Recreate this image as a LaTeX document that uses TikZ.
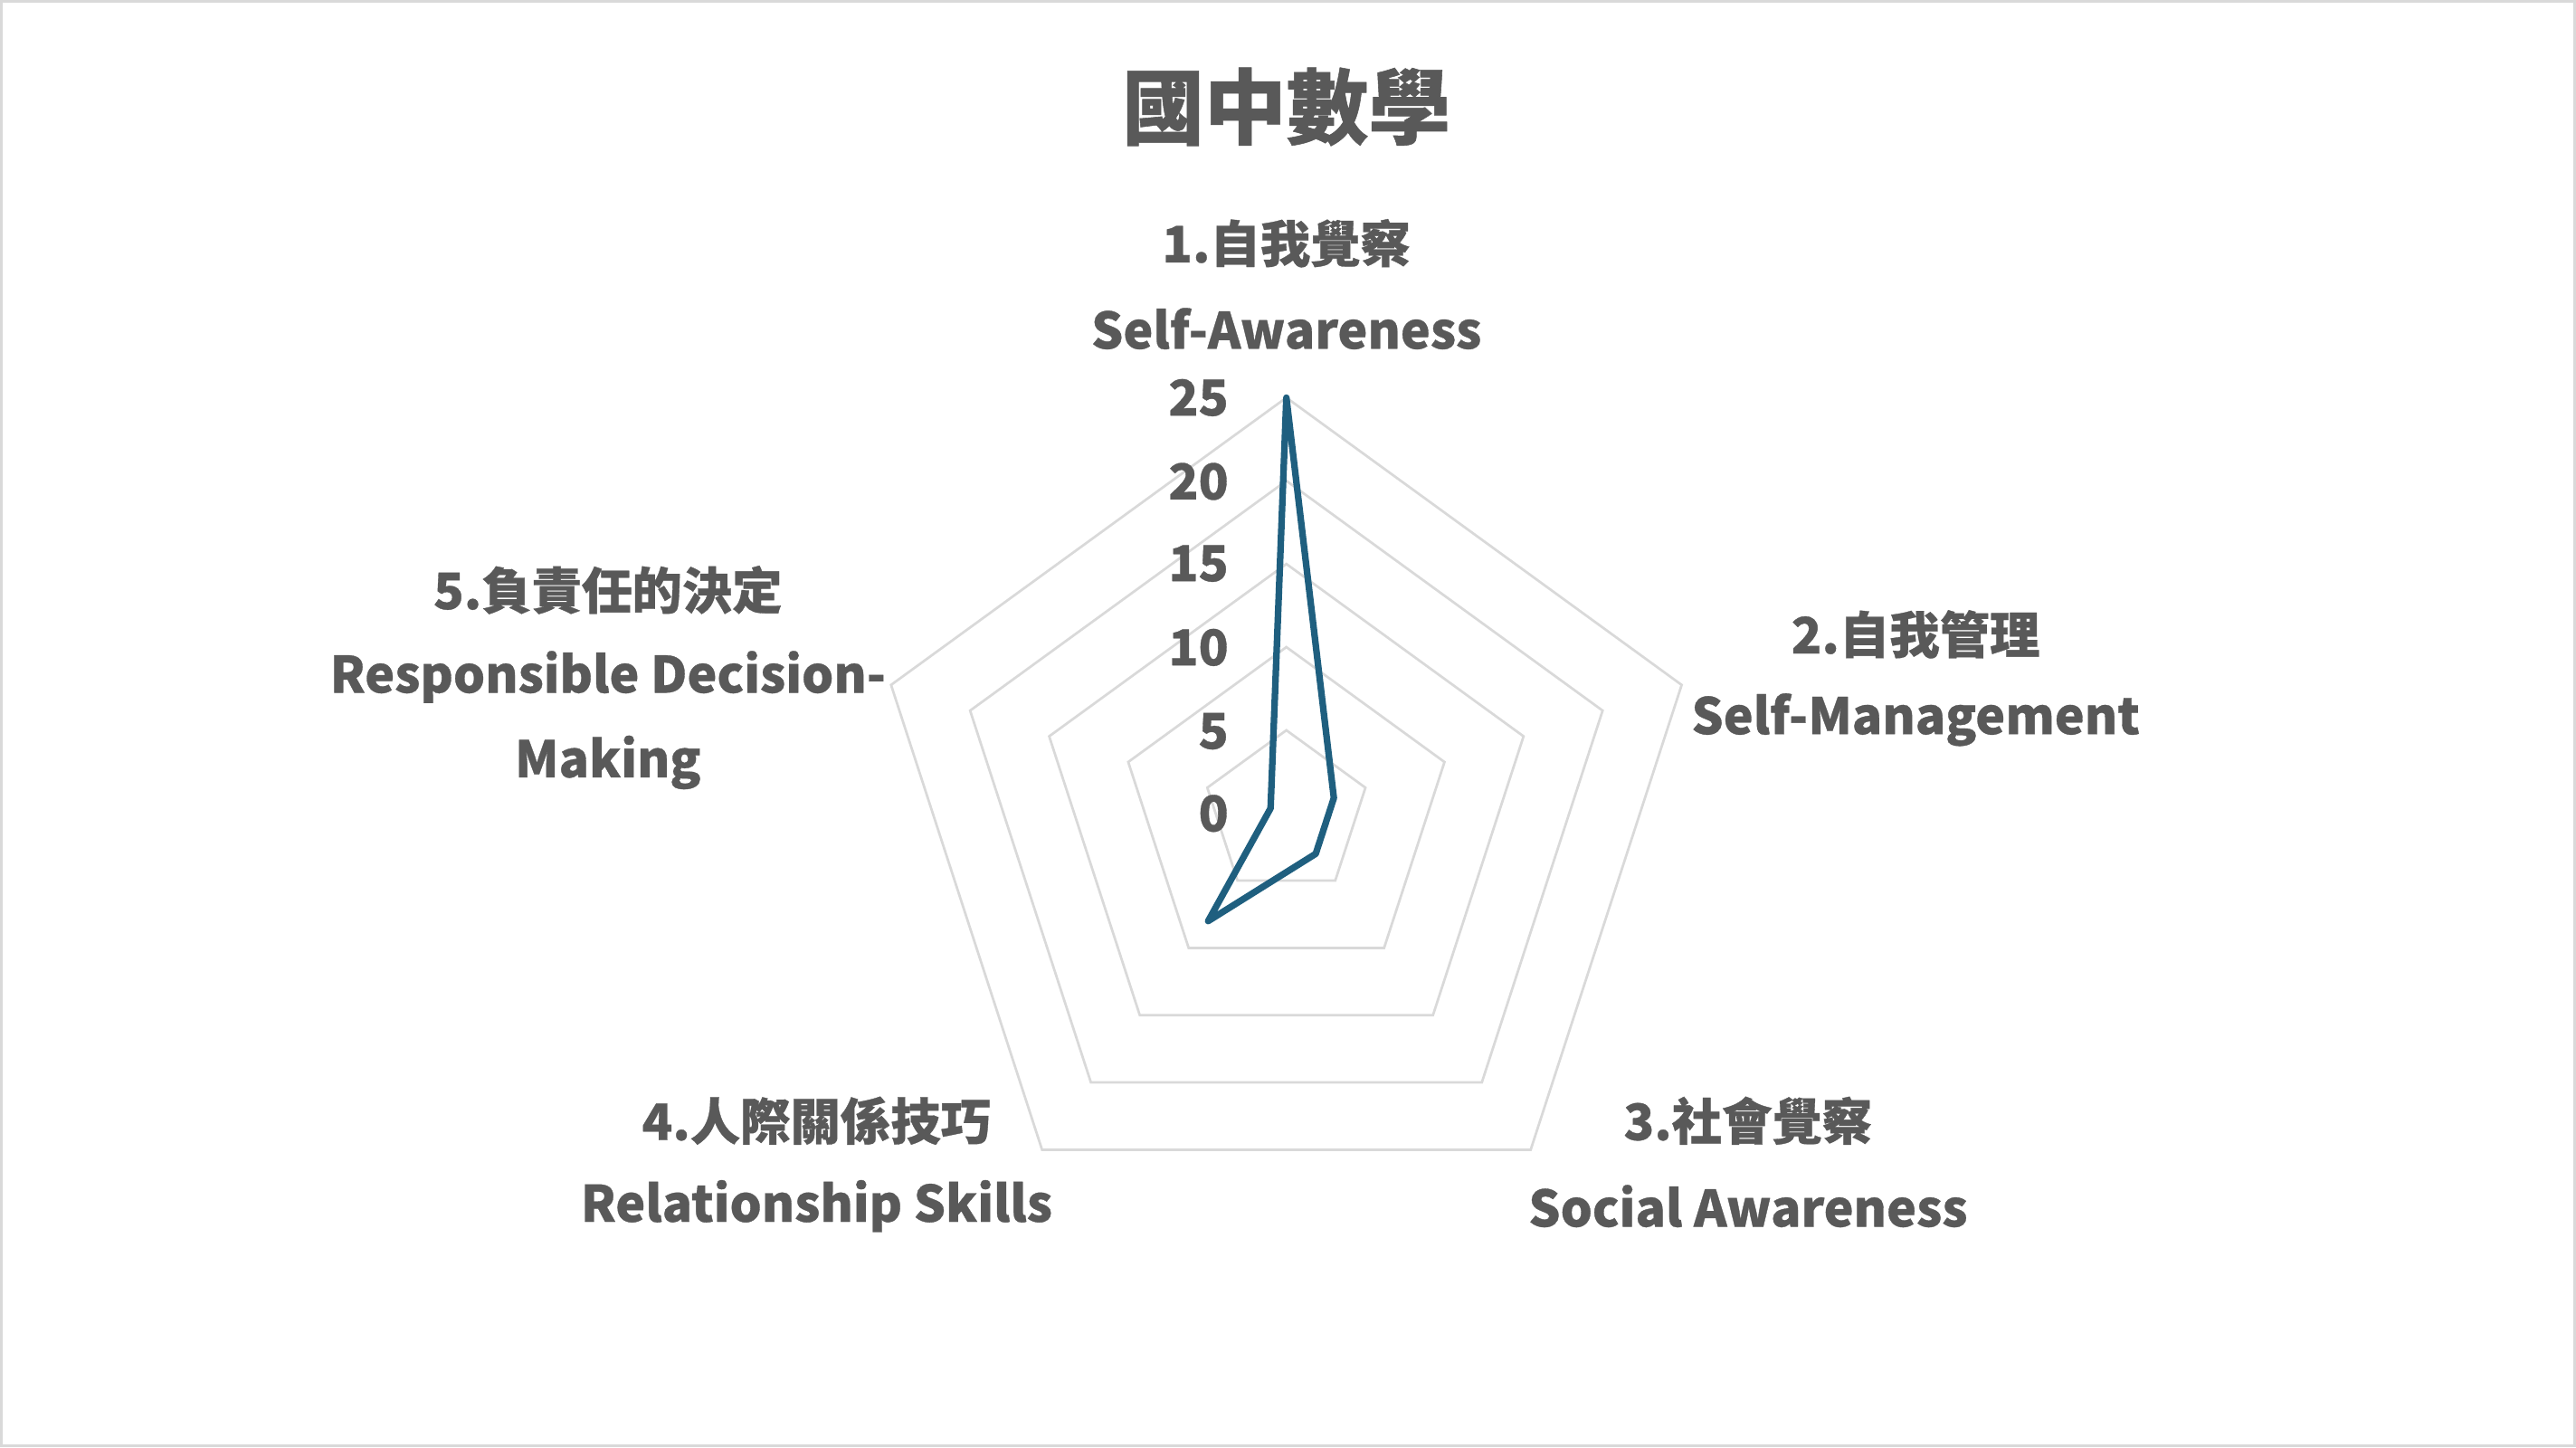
\documentclass[tikz,border=0pt]{standalone}
\usepackage{fontspec}
\usetikzlibrary{calc}
\setmainfont{Noto Sans CJK TC}[FakeBold=0.6]
\definecolor{txt}{HTML}{595959}
\definecolor{ring}{HTML}{D9D9D9}
\definecolor{data}{HTML}{1F5F7F}
\begin{document}
\begin{tikzpicture}[x=1pt,y=-1pt,
  lab/.style={text=txt,font=\bfseries\fontsize{30.5}{32}\selectfont,inner sep=0pt},
  tick/.style={text=txt,font=\bfseries\fontsize{30}{32}\selectfont,anchor=east,inner sep=0pt}]
\useasboundingbox (0,0) rectangle (1568,881);
\draw[ring,line width=1.5] (1,1) rectangle (1567,880);
\coordinate (c) at (783,495);
\foreach \v in {5,10,15,20,25}{
  \pgfmathsetmacro\r{\v*10.12}
  \draw[ring,line width=1.5] ($(c)+(-90:\r)$)
    \foreach \a in {-18,54,126,-162}{ -- ($(c)+(\a:\r)$)} -- cycle;
}
\foreach \v/\y in {25/242,20/293,15/343,10/394,5/445,0/495}
  \node[tick] (t\v) at (748,\y) {\v};
\coordinate (p1) at ($(c)+(-90:253)$);
\coordinate (p2) at ($(c)+(-18:30.4)$);
\coordinate (p3) at ($(c)+(54:30.4)$);
\coordinate (p4) at ($(c)+(126:81)$);
\coordinate (p5) at ($(c)+(-162:10.1)$);
\draw[data,line width=4,line join=round] (p1)--(p2)--(p3)--(p4)--(p5)--cycle;
\node[text=txt,font=\bfseries\fontsize{50}{54}\selectfont] (title) at (783,65) {國中數學};
\node[lab] (l1a) at (783,148) {1.自我覺察};
\node[lab] (l1b) at (783,200) {Self-Awareness};
\node[lab] (l2a) at (1166,386) {2.自我管理};
\node[lab] (l2b) at (1166,438) {Self-Management};
\node[lab] (l3a) at (1064,682) {3.社會覺察};
\node[lab] (l3b) at (1064,734) {Social Awareness};
\node[lab] (l4a) at (497,682) {4.人際關係技巧};
\node[lab] (l4b) at (497,734) {Relationship Skills};
\node[lab] (l5a) at (370,359) {5.負責任的決定};
\node[lab] (l5b) at (370,412) {Responsible Decision-};
\node[lab] (l5c) at (370,464) {Making};
\end{tikzpicture}
\end{document}
